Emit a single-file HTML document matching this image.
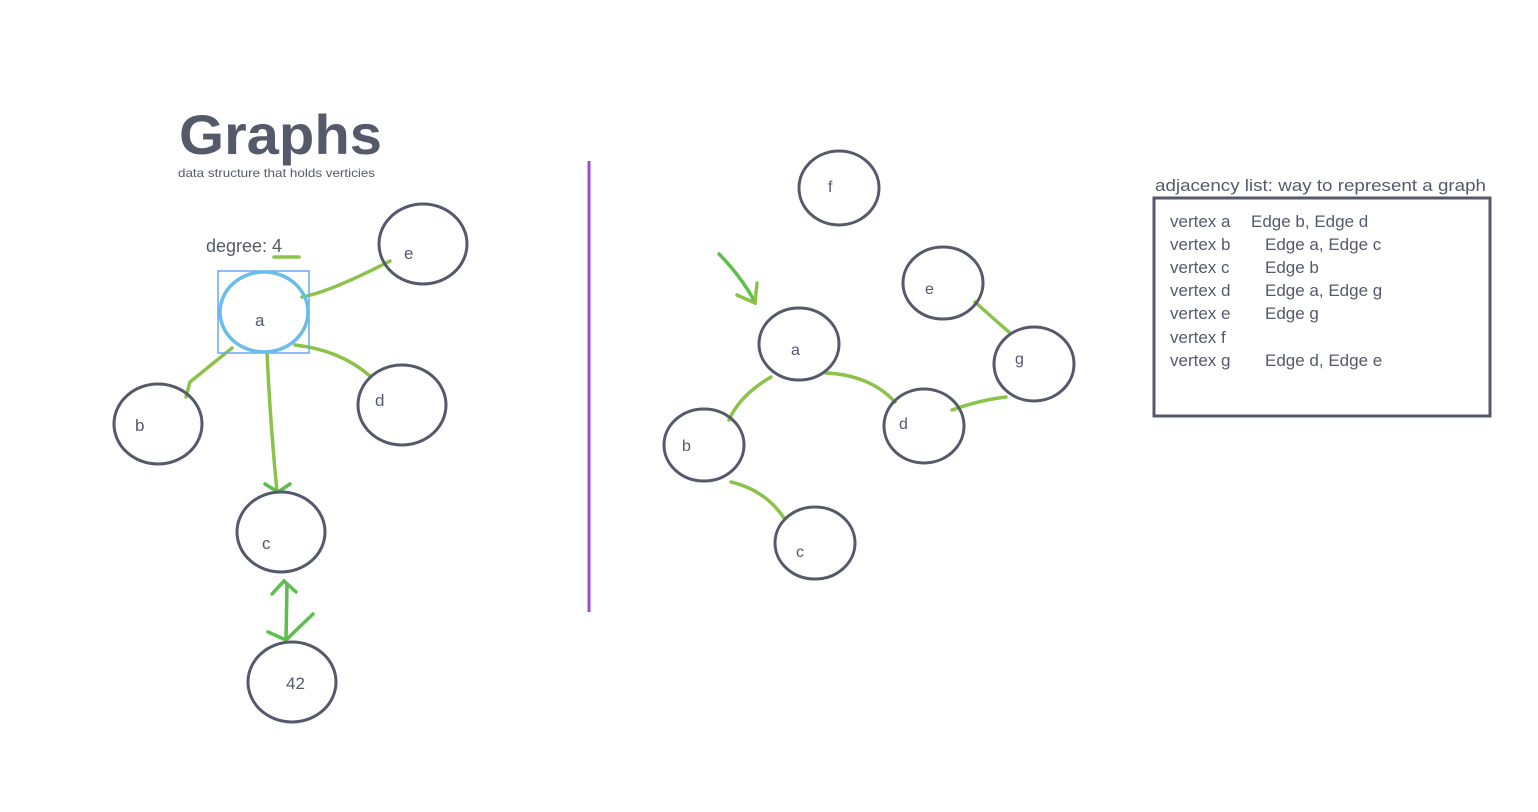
<!DOCTYPE html>
<html><head><meta charset="utf-8"><style>
body{margin:0;background:#fff;width:1538px;height:812px;overflow:hidden}
svg{display:block}
text{font-family:"Liberation Sans",sans-serif;fill:#555a6b}
</style></head><body>
<svg width="1538" height="812" viewBox="0 0 1538 812">
<text x="179" y="154" font-size="56" font-weight="bold" textLength="203" lengthAdjust="spacingAndGlyphs">Graphs</text>
<text x="178" y="177" font-size="12" textLength="197" lengthAdjust="spacingAndGlyphs">data structure that holds verticies</text>
<text x="206" y="252" font-size="18">degree: 4</text>
<path d="M274 257 L299 257" stroke="#8bc34a" stroke-width="3.5" stroke-linecap="round" fill="none"/>
<g fill="none" stroke="#8bc34a" stroke-width="3.5" stroke-linecap="round">
<path d="M302 297 Q330 292 390 261"/>
<path d="M232 348 L190 382 L186 397"/>
<path d="M295 345 Q340 350 370 376"/>
<path d="M267 352 Q270 420 277 492"/>
</g>
<g fill="none" stroke="#5cbf4c" stroke-width="3.5" stroke-linecap="round">
<path d="M265 484 L278 492 L290 484"/>
<path d="M287 584 L286 640"/>
<path d="M272 594 L284 581 L296 592"/>
<path d="M268 632 L286 640 L313 614"/>
<path d="M719 254 Q740 275 755 302"/>
<path d="M737 295 L755 303 L757 283" stroke="#8bc34a"/>
</g>
<rect x="218" y="271" width="91" height="82" fill="none" stroke="#6aa7f0" stroke-width="1.5"/>
<ellipse cx="264" cy="312" rx="44" ry="40" fill="none" stroke="#6bbde9" stroke-width="3.5"/>
<g fill="none" stroke="#555a6b" stroke-width="3">
<ellipse cx="423" cy="244" rx="44" ry="40"/>
<ellipse cx="158" cy="424" rx="44" ry="40"/>
<ellipse cx="402" cy="405" rx="44" ry="40"/>
<ellipse cx="281" cy="532" rx="44" ry="40"/>
<ellipse cx="292" cy="682" rx="44" ry="40"/>
</g>
<g font-size="17">
<text x="404" y="259">e</text><text x="255" y="326">a</text><text x="135" y="431">b</text>
<text x="375" y="406">d</text><text x="262" y="549">c</text><text x="286" y="689">42</text>
</g>
<line x1="589" y1="161" x2="589" y2="612" stroke="#9c4dcc" stroke-width="3"/>
<g fill="none" stroke="#8bc34a" stroke-width="3.5" stroke-linecap="round">
<path d="M771 377 Q740 395 729 420"/>
<path d="M826 373 Q870 375 895 402"/>
<path d="M731 482 Q765 490 784 518"/>
<path d="M975 302 Q995 320 1010 333"/>
<path d="M952 410 Q980 400 1006 397"/>
</g>
<g fill="none" stroke="#555a6b" stroke-width="3">
<ellipse cx="839" cy="188" rx="40" ry="37"/>
<ellipse cx="943" cy="283" rx="40" ry="36"/>
<ellipse cx="799" cy="344" rx="40" ry="36"/>
<ellipse cx="1034" cy="364" rx="40" ry="37"/>
<ellipse cx="924" cy="426" rx="40" ry="37"/>
<ellipse cx="704" cy="445" rx="40" ry="36"/>
<ellipse cx="815" cy="543" rx="40" ry="36"/>
</g>
<g font-size="16">
<text x="828" y="192">f</text><text x="925" y="294">e</text><text x="791" y="355">a</text>
<text x="1015" y="364">g</text><text x="899" y="429">d</text><text x="682" y="451">b</text><text x="796" y="557">c</text>
</g>
<text x="1155" y="191" font-size="17" textLength="331" lengthAdjust="spacingAndGlyphs">adjacency list:  way to represent a  graph</text>
<rect x="1154" y="198" width="336" height="218" fill="none" stroke="#555a6b" stroke-width="3"/>
<g font-size="17">
<text x="1170" y="227">vertex a</text><text x="1251" y="227">Edge b, Edge d</text>
<text x="1170" y="250">vertex b</text><text x="1265" y="250">Edge a, Edge c</text>
<text x="1170" y="273">vertex c</text><text x="1265" y="273">Edge b</text>
<text x="1170" y="296">vertex d</text><text x="1265" y="296">Edge a, Edge g</text>
<text x="1170" y="319">vertex e</text><text x="1265" y="319">Edge g</text>
<text x="1170" y="343">vertex f</text>
<text x="1170" y="366">vertex g</text><text x="1265" y="366">Edge d, Edge e</text>
</g>
</svg>
</body></html>
